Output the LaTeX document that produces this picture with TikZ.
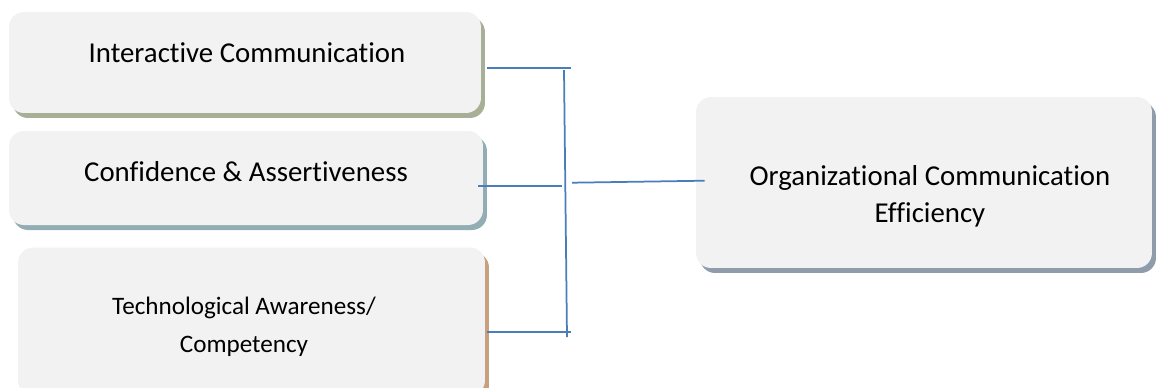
\documentclass[tikz,border=0pt]{standalone}
\usepackage{fontspec}
\setmainfont{Carlito}[Ligatures=NoCommon]
\usetikzlibrary{shadows,calc}
\definecolor{boxfill}{HTML}{F2F2F2}
\definecolor{linkblue}{HTML}{4A7EBB}
\definecolor{shadeolive}{HTML}{A7B096}
\definecolor{shadeteal}{HTML}{93ADB5}
\definecolor{shadetan}{HTML}{C9A07F}
\definecolor{shadeslate}{HTML}{8E9CAC}
\tikzset{
  card/.style={rounded corners=0.3cm, fill=boxfill, inner sep=0pt},
  shade/.style={drop shadow={shadow xshift=0.08cm, shadow yshift=-0.1cm,
                opacity=1, fill=#1}},
  link/.style={draw=linkblue, line width=0.035cm},
  big/.style={font=\fontsize{16.4}{21}\selectfont, align=center},
  small/.style={font=\fontsize{14.3}{21.6}\selectfont, align=center}
}
\begin{document}
\begin{tikzpicture}[x=0.02cm,y=-0.02cm]%{{{
\useasboundingbox (0,0) rectangle (1157,387);
%
% Boites de gauche
\node [card, shade=shadeolive, minimum width=9.44cm, minimum height=2.02cm]
      (ic)  at (245,62.5) {};
\node [card, shade=shadeteal,  minimum width=9.48cm, minimum height=1.88cm]
      (ca)  at (246,178)  {};
\node [card, shade=shadetan,   minimum width=9.34cm, minimum height=2.96cm]
      (tac) at (251.5,321.5) {};
%
% Boite de droite
\node [card, shade=shadeslate, minimum width=9.12cm, minimum height=3.42cm]
      (oce) at (924,182.5) {};
%
% Textes
\node [big]   (ictext)  at (247,53)  {Interactive Communication};
\node [big]   (catext)  at (246,172) {Confidence \& Assertiveness};
\node [small] (tactext) at (244,327) {Technological Awareness/\\Competency};
\node [big]   (ocetext) at (930,196) {Organizational Communication\\Efficiency};
%
% Bus
\coordinate (bustop) at (564,70);
\coordinate (busbot) at (567,337);
\coordinate (busmid) at (572,182.7);
\draw [link] (bustop) -- (busbot);
%
% Liaisons
\draw [link] ($(ic.east)+(6,5.5)$)   -- ++(84,0);
\draw [link] ($(ca.east)+(-5,7.7)$)  -- ++(84,0);
\draw [link] ($(tac.east)+(2,10.5)$) -- ++(84,0);
\draw [link] (busmid) -- ($(oce.west)+(9,-1.8)$);
%
\end{tikzpicture}
\end{document}
